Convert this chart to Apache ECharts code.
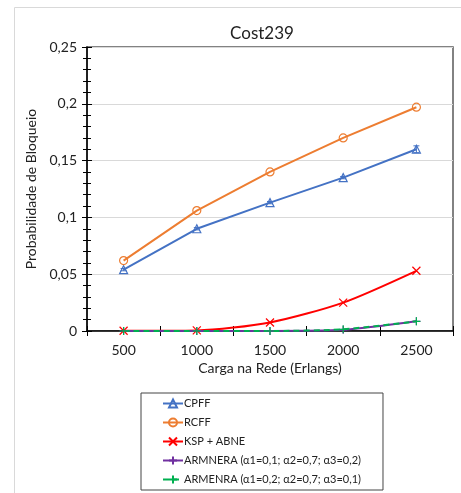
<!DOCTYPE html>
<html>
<head>
<meta charset="utf-8">
<script src="https://cdn.jsdelivr.net/npm/echarts@6/dist/echarts.min.js"></script>
<style>
  html, body { margin: 0; padding: 0; background: #fff; }
  #chart { width: 461px; height: 493px; }
</style>
</head>
<body>
<div id="chart"></div>
<script>
var cargas = ['500', '1000', '1500', '2000', '2500'];
var cpff = [0.054, 0.090, 0.113, 0.135, 0.160];
var cpffErr = [0.001, 0.001, 0.001, 0.001, 0.003];
var rcff = [0.062, 0.106, 0.140, 0.170, 0.197];
var kspAbne = [0.0002, 0.0005, 0.0075, 0.025, 0.053];
var armnera1 = [0, 0, 0, 0.001, 0.0085];
var armenra2 = [0, 0, 0, 0.0015, 0.0085];
var yTicks = [0, 0.05, 0.1, 0.15, 0.2, 0.25];

var FONT = 'Lato';
var crossPath = 'path://M0,0L10,10M10,0L0,10';
var plusPath = 'path://M5,0L5,10M0,5L10,5';

var chart = echarts.init(document.getElementById('chart'));

function lineSeries(name, data, color, symbol, extra) {
  var s = {
    name: name,
    type: 'line',
    data: data,
    symbol: symbol,
    symbolSize: 8,
    lineStyle: { color: color, width: 2 },
    itemStyle: { color: 'rgba(255,255,255,0)', borderColor: color, borderWidth: 1.2 },
    emphasis: { disabled: true },
    z: 3
  };
  for (var k in extra) s[k] = extra[k];
  return s;
}

chart.setOption({
  animation: false,
  textStyle: { fontFamily: FONT },
  title: {
    text: 'Cost239',
    left: 257,
    top: 20,
    textAlign: 'center',
    textStyle: { fontFamily: FONT, fontSize: 17, fontWeight: 'normal', color: '#222' }
  },
  graphic: [
    {
      type: 'rect',
      shape: { x: 14.5, y: 7.5, width: 460, height: 500 },
      style: { fill: 'none', stroke: '#d9d9d9', lineWidth: 1 },
      silent: true
    }
  ],
  grid: {
    left: 87, right: 8, top: 47, bottom: 162,
    show: true, borderColor: '#5a5a5a', borderWidth: 1.5
  },
  legend: {
    orient: 'vertical',
    left: 141, top: 393,
    padding: [5, 22, 5, 21],
    itemWidth: 20, itemHeight: 10, itemGap: 8,
    borderColor: '#444', borderWidth: 1,
    textStyle: { fontFamily: FONT, fontSize: 11, color: '#222', padding: [0, 0, 0, -4] },
    data: ['CPFF', 'RCFF', 'KSP + ABNE', 'ARMNERA (α1=0,1; α2=0,7; α3=0,2)', 'ARMENRA (α1=0,2; α2=0,7; α3=0,1)']
  },
  xAxis: [
    {
      type: 'category',
      data: cargas,
      boundaryGap: true,
      name: 'Carga na Rede (Erlangs)',
      nameLocation: 'middle',
      nameGap: 29,
      nameTextStyle: { fontFamily: FONT, fontSize: 14, color: '#222' },
      axisLine: { lineStyle: { color: '#000', width: 1.5 } },
      axisTick: { show: true, length: 5, lineStyle: { color: '#000' } },
      axisLabel: { fontFamily: FONT, fontSize: 14, color: '#222', margin: 12 },
      splitLine: { show: false }
    },
    {
      type: 'category',
      data: cargas,
      position: 'bottom',
      boundaryGap: true,
      axisLine: { show: false },
      axisTick: { show: true, inside: true, length: 5, lineStyle: { color: '#000' } },
      axisLabel: { show: false },
      splitLine: { show: false }
    }
  ],
  yAxis: [
    {
      type: 'value',
      min: yTicks[0],
      max: yTicks[yTicks.length - 1],
      interval: 0.05,
      name: 'Probabilidade de Bloqueio',
      nameLocation: 'middle',
      nameGap: 49,
      nameTextStyle: { fontFamily: FONT, fontSize: 14, color: '#222' },
      axisLine: { show: true, lineStyle: { color: '#000', width: 1.5 } },
      axisTick: { show: true, length: 5, lineStyle: { color: '#000' } },
      minorTick: { show: true, splitNumber: 5, length: 4, lineStyle: { color: '#000' } },
      axisLabel: {
        fontFamily: FONT, fontSize: 14, color: '#222', margin: 10,
        formatter: function (v) { return String(+v.toFixed(2)).replace('.', ','); }
      },
      splitLine: { show: true, lineStyle: { color: '#d9d9d9', width: 1 } }
    },
    {
      type: 'value',
      position: 'left',
      min: yTicks[0],
      max: yTicks[yTicks.length - 1],
      interval: 0.05,
      axisLine: { show: false },
      axisTick: { show: true, inside: true, length: 5, lineStyle: { color: '#000' } },
      minorTick: { show: true, splitNumber: 5, length: 4, lineStyle: { color: '#000' } },
      axisLabel: { show: false },
      splitLine: { show: false }
    }
  ],
  series: [
    lineSeries('CPFF', cpff, '#4472c4', 'triangle', {}),
    lineSeries('RCFF', rcff, '#ed7d31', 'circle', {}),
    lineSeries('KSP + ABNE', kspAbne, '#ff0000', crossPath, { smooth: 0.25 }),
    lineSeries('ARMNERA (α1=0,1; α2=0,7; α3=0,2)', armnera1, '#7030a0', plusPath, { smooth: 0.25 }),
    lineSeries('ARMENRA (α1=0,2; α2=0,7; α3=0,1)', armenra2, '#00b050', plusPath, {
      smooth: 0.25,
      lineStyle: { color: '#00b050', width: 2, type: [6, 4] }
    }),
    {
      type: 'custom',
      name: 'erro',
      z: 4,
      silent: true,
      data: cpff.map(function (v, i) { return [i, v - cpffErr[i], v + cpffErr[i]]; }),
      renderItem: function (params, api) {
        var lo = api.coord([api.value(0), api.value(1)]);
        var hi = api.coord([api.value(0), api.value(2)]);
        var w = 3;
        var st = { stroke: '#4472c4', lineWidth: 1 };
        return {
          type: 'group',
          children: [
            { type: 'line', shape: { x1: lo[0], y1: lo[1], x2: hi[0], y2: hi[1] }, style: st },
            { type: 'line', shape: { x1: lo[0] - w, y1: lo[1], x2: lo[0] + w, y2: lo[1] }, style: st },
            { type: 'line', shape: { x1: hi[0] - w, y1: hi[1], x2: hi[0] + w, y2: hi[1] }, style: st }
          ]
        };
      }
    }
  ]
});
</script>
</body>
</html>
